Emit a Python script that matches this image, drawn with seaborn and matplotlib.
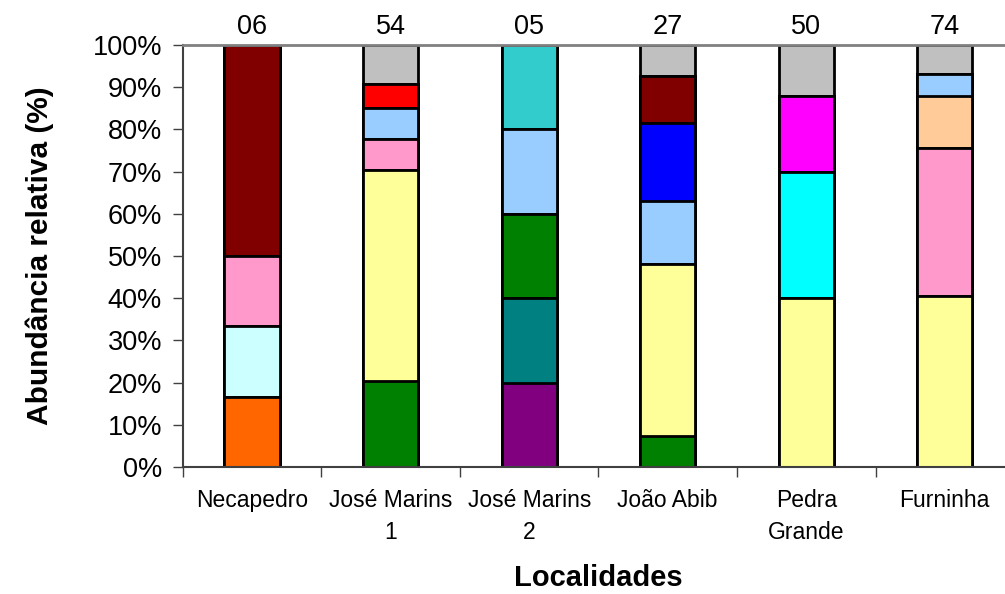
import numpy as np
import pandas as pd
import matplotlib
matplotlib.use("Agg")
import matplotlib.pyplot as plt
import seaborn as sns
from matplotlib.ticker import PercentFormatter, FixedLocator

# ---------------- dados ----------------
localidades = ["Necapedro", "José Marins\n1", "José Marins\n2", "João Abib",
               "Pedra\nGrande", "Furninha"]
rotulos_n = ["06", "54", "05", "27", "50", "74"]

# contagens por grupo (ordem de empilhamento, de baixo para cima)
purple     = [0, 0, 1, 0, 0, 0]
teal       = [0, 0, 1, 0, 0, 0]
orange     = [1, 0, 0, 0, 0, 0]
green      = [0, 11, 1, 2, 0, 0]
yellow     = [0, 27, 0, 11, 20, 30]
lightcyan  = [1, 0, 0, 0, 0, 0]
cyan       = [0, 0, 0, 0, 15, 0]
pink       = [1, 4, 0, 0, 0, 26]
magenta    = [0, 0, 0, 0, 9, 0]
peach      = [0, 0, 0, 0, 0, 9]
lightblue  = [0, 4, 1, 4, 0, 4]
blue       = [0, 0, 0, 5, 0, 0]
red        = [0, 3, 0, 0, 0, 0]
darkred    = [3, 0, 0, 3, 0, 0]
turquoise  = [0, 0, 1, 0, 0, 0]
gray       = [0, 5, 0, 2, 6, 5]

series = [purple, teal, orange, green, yellow, lightcyan, cyan, pink, magenta,
          peach, lightblue, blue, red, darkred, turquoise, gray]
cores = ["#800080", "#008080", "#FF6600", "#008000", "#FFFF99", "#CCFFFF",
         "#00FFFF", "#FF99CC", "#FF00FF", "#FFCC99", "#99CCFF", "#0000FF",
         "#FF0000", "#800000", "#33CCCC", "#C0C0C0"]

counts = np.array(series, dtype=float)
perc = counts / counts.sum(axis=0) * 100
cum = np.cumsum(perc, axis=0)

# ---------------- figura ----------------
sns.set_style("white")
plt.rcParams["font.family"] = ["Liberation Sans", "DejaVu Sans"]
plt.rcParams["text.color"] = "black"
plt.rcParams["xtick.color"] = "black"
plt.rcParams["ytick.color"] = "black"
plt.rcParams["axes.labelcolor"] = "black"

fig = plt.figure(figsize=(10.05, 5.94), dpi=100)
ax = fig.add_axes([0.182, 0.2138, 1.009 - 0.182, 0.9242 - 0.2138])

# barras sobrepostas: do topo acumulado para a base
for i in range(len(series) - 1, -1, -1):
    df = pd.DataFrame({"loc": localidades, "val": cum[i]})
    sns.barplot(data=df, x="loc", y="val", color=cores[i], width=0.4,
                edgecolor="black", linewidth=2, saturation=1, ax=ax)

ax.set_xlim(-0.5, 5.5)
ax.set_ylim(0, 100)
ax.yaxis.set_major_locator(FixedLocator(np.arange(0, 101, 10)))
ax.yaxis.set_major_formatter(PercentFormatter(decimals=0))

ax.set_xticks(range(len(localidades)))
ax.set_xticklabels(localidades, fontsize=16.5, linespacing=1.5)
ax.set_xticks(np.arange(-0.5, 5.6, 1), minor=True)
ax.tick_params(axis="x", which="major", length=0, pad=16)
ax.tick_params(axis="x", which="minor", length=7, width=1, color="#404040",
               direction="out")
ax.tick_params(axis="y", length=7, width=1, color="#404040", direction="out",
               labelsize=19.5, pad=8)
ax.tick_params(bottom=True, left=True, which="both")

for s in ["left", "bottom"]:
    ax.spines[s].set_color("#404040")
    ax.spines[s].set_linewidth(1.5)
ax.spines["top"].set_color("#808080")
ax.spines["top"].set_linewidth(2)
ax.spines["right"].set_visible(False)

ax.set_xlabel("Localidades", fontsize=21, fontweight="bold", labelpad=14)
ax.set_ylabel("Abundância relativa (%)", fontsize=21.5, fontweight="bold",
              labelpad=28)

for i, txt in enumerate(rotulos_n):
    ax.text(i, 101.2, txt, ha="center", va="bottom", fontsize=19.5)

fig.savefig("out.png", dpi=100)
